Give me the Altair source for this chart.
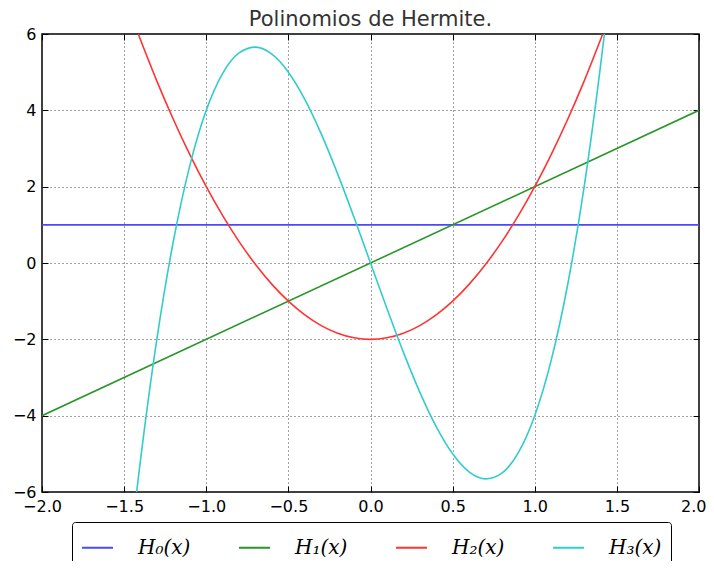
import altair as alt
import pandas as pd

# Series values; curves end where they leave the frame
x_h0 = [-2.0, 2.0]
y_h0 = [1.0, 1.0]

x_h1 = [-2.0, 2.0]
y_h1 = [-4.0, 4.0]

x_h2 = [-1.414, -1.3, -1.2, -1.1, -1.0, -0.9, -0.8, -0.7, -0.6, -0.5,
        -0.4, -0.3, -0.2, -0.1, 0.0, 0.1, 0.2, 0.3, 0.4, 0.5, 0.6, 0.7,
        0.8, 0.9, 1.0, 1.1, 1.2, 1.3, 1.414]
y_h2 = [6.0, 4.76, 3.76, 2.84, 2.0, 1.24, 0.56, -0.04, -0.56, -1.0,
        -1.36, -1.64, -1.84, -1.96, -2.0, -1.96, -1.84, -1.64, -1.36, -1.0,
        -0.56, -0.04, 0.56, 1.24, 2.0, 2.84, 3.76, 4.76, 6.0]

x_h3 = [-1.424, -1.4, -1.3, -1.2, -1.1, -1.0, -0.9, -0.8, -0.7, -0.6, -0.5,
        -0.4, -0.3, -0.2, -0.1, 0.0, 0.1, 0.2, 0.3, 0.4, 0.5, 0.6, 0.7,
        0.8, 0.9, 1.0, 1.1, 1.2, 1.3, 1.4, 1.424]
y_h3 = [-6.0, -5.152, -1.976, 0.576, 2.552, 4.0, 4.968, 5.504, 5.656, 5.472,
        5.0, 4.288, 3.384, 2.336, 1.192, 0.0, -1.192, -2.336, -3.384, -4.288,
        -5.0, -5.472, -5.656, -5.504, -4.968, -4.0, -2.552, -0.576, 1.976,
        5.152, 6.0]

names = ["H₀(x)", "H₁(x)", "H₂(x)", "H₃(x)"]
colors = ["#4848ff", "#2a962a", "#ff3333", "#33cccc"]

x_ticks = [-2.0, -1.5, -1.0, -0.5, 0.0, 0.5, 1.0, 1.5, 2.0]
y_ticks = [-6, -4, -2, 0, 2, 4, 6]

W, H = 657, 458

rows = []
for xs, ys, nm in [(x_h0, y_h0, names[0]), (x_h1, y_h1, names[1]),
                   (x_h2, y_h2, names[2]), (x_h3, y_h3, names[3])]:
    for i, (a, b) in enumerate(zip(xs, ys)):
        rows.append({"x": a, "y": b, "serie": nm, "i": i})
df = pd.DataFrame(rows)

xscale = alt.Scale(domain=[-2, 2], nice=False, zero=False)
yscale = alt.Scale(domain=[-6, 6], nice=False, zero=False)

lines = alt.Chart(df).mark_line(clip=True, strokeWidth=1.6, interpolate="monotone").encode(
    x=alt.X("x:Q", scale=xscale,
            axis=alt.Axis(values=x_ticks, format=".1f", title=None, domain=False,
                          tickSize={"expr": "-6"}, tickColor="black", labelFlush=False,
                          labelAlign={"condition": {"test": "datum.value >= 2", "value": "right"},
                                      "value": "center"},
                          labelOffset={"condition": {"test": "datum.value >= 2", "value": 7},
                                       "value": 0},
                          labelPadding=12, grid=True)),
    y=alt.Y("y:Q", scale=yscale,
            axis=alt.Axis(values=y_ticks, format="d", title=None, domain=False,
                          tickSize={"expr": "-6"}, tickColor="black", labelFlush=False,
                          labelPadding=12, grid=True)),
    color=alt.Color("serie:N",
                    scale=alt.Scale(domain=names, range=colors),
                    legend=alt.Legend(
                        title=None, orient="none", legendX=30, legendY=488,
                        direction="horizontal", columns=4,
                        symbolType="stroke", symbolSize=961, symbolStrokeWidth=2,
                        labelFont="DejaVu Serif", labelFontStyle="italic",
                        labelFontSize=20, labelColor="black", labelOffset=24,
                        columnPadding=44, padding=9, gridAlign="all",
                        strokeColor="black", fillColor="white", cornerRadius=3)),
    order="i:Q",
)

# inward ticks on the top and right frame edges
ticks_tr = alt.Chart(df).mark_line(opacity=0).encode(
    x=alt.X("x:Q", scale=xscale,
            axis=alt.Axis(orient="bottom", offset=-H, values=x_ticks, labels=False,
                          title=None, domain=False, grid=False, tickSize=6,
                          tickColor="black")),
    y=alt.Y("y:Q", scale=yscale,
            axis=alt.Axis(orient="left", offset=-W, values=y_ticks, labels=False,
                          title=None, domain=False, grid=False, tickSize=6,
                          tickColor="black")),
    detail="serie:N",
)

chart = alt.layer(lines, ticks_tr).resolve_axis(x="independent", y="independent").properties(
    width=W, height=H,
    autosize=alt.AutoSizeParams(type="none"),
    padding={"left": 34, "top": 26, "right": 7, "bottom": 69},
    title=alt.TitleParams("Polinomios de Hermite.", font="DejaVu Sans", fontSize=21,
                          fontWeight="normal", color="#333333", anchor="middle",
                          offset=-4),
).configure_view(stroke="black", strokeWidth=1.5).configure_axis(
    labelFont="DejaVu Sans", labelFontSize=16, labelColor="black",
    gridColor="#444444", gridDash=[1, 3], gridWidth=1, gridOpacity=1,
)

chart.save("out.html", embed_options={"renderer": "svg", "actions": False})
